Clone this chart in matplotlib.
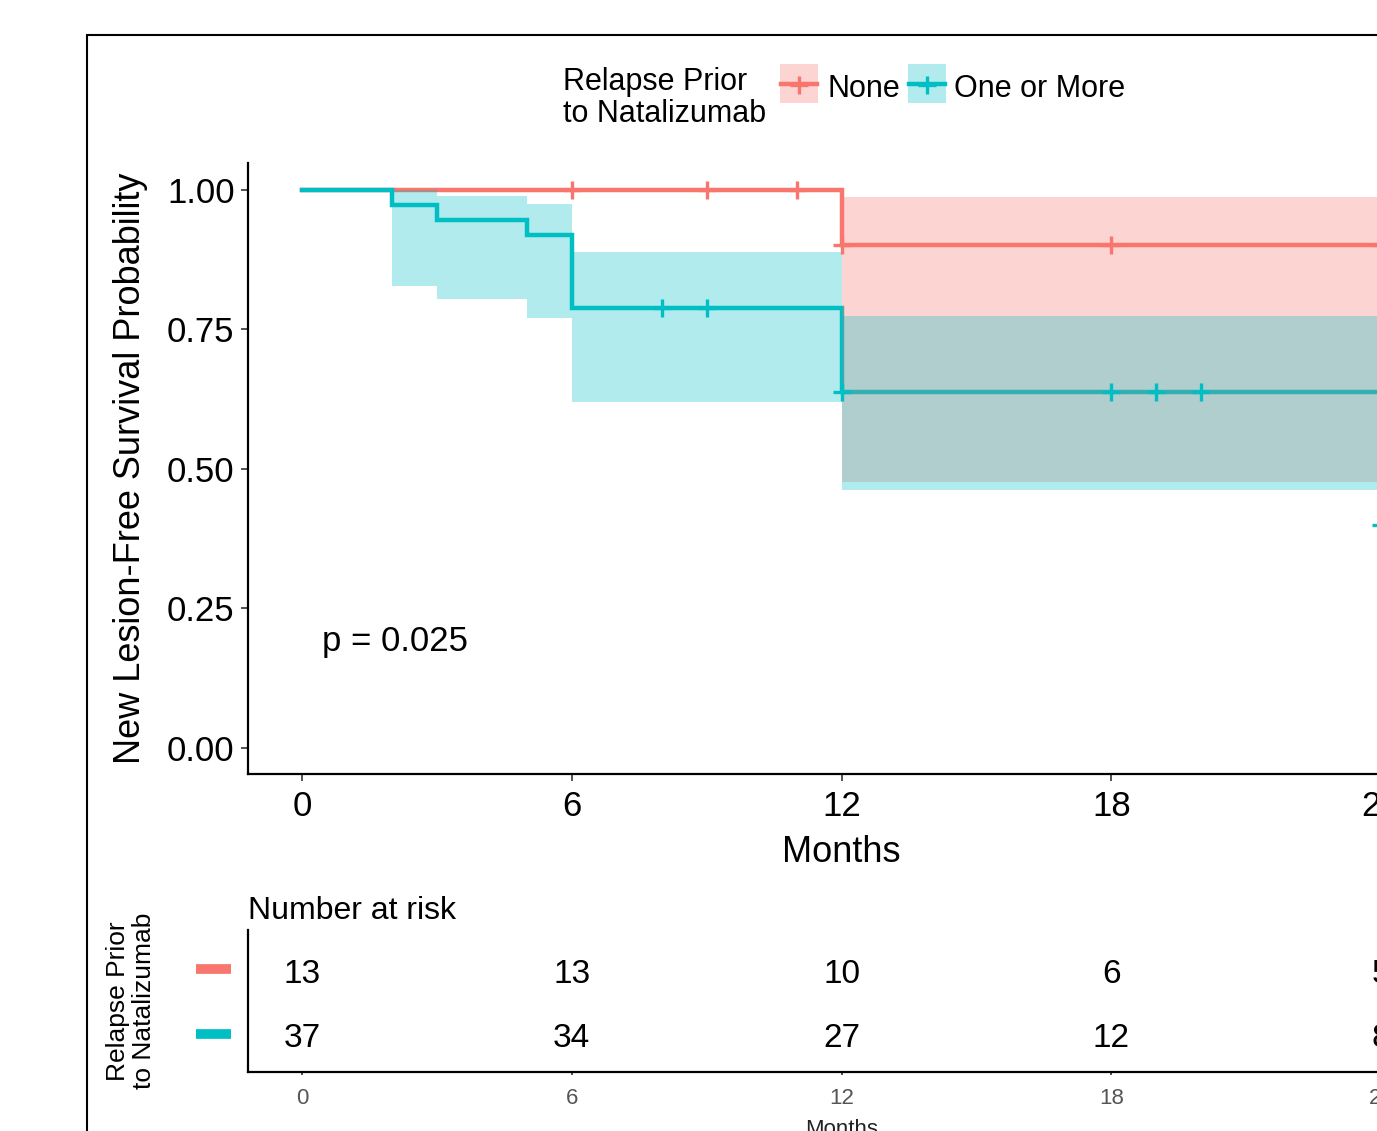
import numpy as np
import matplotlib
matplotlib.use("Agg")
import matplotlib.pyplot as plt
from matplotlib.patches import Rectangle
from matplotlib.lines import Line2D
from matplotlib.transforms import blended_transform_factory

plt.rcParams['font.family'] = ['Liberation Sans', 'DejaVu Sans']

# ---- data ----
groups = ["None", "One or More"]
colors = ["#F8766D", "#00BFC4"]

none_times = [0, 12, 24]
none_surv = [1.0, 0.901, 0.901]
none_lower = [1.0, 0.476]
none_upper = [1.0, 0.987]
none_censor = [6, 9, 11, 12, 18, 24]

more_times = [0, 2, 3, 5, 6, 12, 24]
more_surv = [1.0, 0.973, 0.946, 0.919, 0.788, 0.638, 0.40]
more_lower = [1.0, 0.827, 0.805, 0.770, 0.619, 0.462]
more_upper = [1.0, 1.0, 0.988, 0.974, 0.889, 0.774]
more_censor = [8, 9, 12, 18, 19, 20, 24]

risk_times = [0, 6, 12, 18, 24]
none_risk = [13, 13, 10, 6, 5]
more_risk = [37, 34, 27, 12, 8]

pval_text = "p = 0.025"
x_ticks = [0, 6, 12, 18, 24]
y_ticks = [0.0, 0.25, 0.5, 0.75, 1.0]

W, H = 1377, 1131


def fx(px):
    return px / W


def fy(py):
    return 1 - py / H


fig = plt.figure(figsize=(W / 100, H / 100), dpi=100)

# outer frame of the arranged plot
fig.add_artist(Rectangle((fx(87), fy(1250)), (1600 - 87) / W, (1250 - 35) / H,
                         transform=fig.transFigure, fill=False, ec="black",
                         lw=1.5, clip_on=False))

# ---- survival curves ----
ax = fig.add_axes([fx(248), fy(774), 1187 / W, (774 - 163) / H])


def surv_at(times, surv, t):
    i = np.searchsorted(times, t, side="right") - 1
    return np.asarray(surv)[i]


series = [
    (none_times, none_surv, none_lower, none_upper, none_censor),
    (more_times, more_surv, more_lower, more_upper, more_censor),
]

for (t, s, lo, hi, cen), col in zip(series, colors):
    ax.step(t, s, where="post", color=col, lw=3.2, zorder=2, solid_joinstyle="miter")

for (t, s, lo, hi, cen), col in zip(series, colors):
    tt = list(t[:len(lo)]) + [t[-1]]
    ax.fill_between(tt, list(lo) + [lo[-1]], list(hi) + [hi[-1]], step="post",
                    color=col, alpha=0.3, lw=0, zorder=3)

for (t, s, lo, hi, cen), col in zip(series, colors):
    ax.plot(cen, [surv_at(t, s, c) for c in cen], ls="none", marker="+",
            ms=13, mew=2.4, color=col, zorder=4, clip_on=False)

ax.text(0.44, 0.174, pval_text, fontsize=25, ha="left", va="baseline")

ax.set_xlim(-1.2, 25.2)
ax.set_ylim(-0.047, 1.048)
ax.set_xticks(x_ticks)
ax.set_yticks(y_ticks)
ax.set_yticklabels([f"{v:.2f}" for v in y_ticks])
for side in ["top", "right"]:
    ax.spines[side].set_visible(False)
for side in ["left", "bottom"]:
    ax.spines[side].set_linewidth(1.6)
ax.tick_params(axis="both", labelsize=25, length=5, width=1.2, color="#333333")
ax.tick_params(axis="y", pad=4.7)
ax.tick_params(axis="x", pad=6.5)
ax.set_xlabel("Months", fontsize=26)
ax.xaxis.set_label_coords(0.5, (774 - 835) / 611)
ax.set_ylabel("New Lesion-Free Survival Probability", fontsize=26)
ax.yaxis.set_label_coords((148 - 248) / 1187, 0.5)

# ---- legend (top) ----
fig.text(fx(563), fy(90), "Relapse Prior", fontsize=22, ha="left", va="baseline")
fig.text(fx(563), fy(122), "to Natalizumab", fontsize=22, ha="left", va="baseline")
key_x = [780, 908]
text_x = [827, 954]
for kx, tx, col, name in zip(key_x, text_x, colors, groups):
    fig.add_artist(Rectangle((fx(kx), fy(103)), 38 / W, 39 / H, transform=fig.transFigure,
                             fc=col, alpha=0.3, lw=0))
    fig.add_artist(Line2D([fx(kx + 1), fx(kx + 37)], [fy(84), fy(84)],
                          transform=fig.transFigure, color=col, lw=3.2))
    fig.add_artist(Line2D([fx(kx + 19)], [fy(85)], transform=fig.transFigure,
                          color=col, marker="+", ms=13, mew=2.4, ls="none"))
    fig.text(fx(tx), fy(97), name, fontsize=22, ha="left", va="baseline")

# ---- risk table ----
ax2 = fig.add_axes([fx(248), fy(1072), 1187 / W, (1072 - 930) / H])
rows = [2, 1]
for row, counts in zip(rows, [none_risk, more_risk]):
    for t, n in zip(risk_times, counts):
        ax2.text(t, row - 0.21, str(n), fontsize=24, ha="center", va="baseline",
                 clip_on=False)

bar_tr = blended_transform_factory(ax2.transAxes, ax2.transData)
for row, col in zip(rows, colors):
    ax2.plot([(196 - 248) / 1187, (231 - 248) / 1187], [row, row], color=col, lw=7,
             solid_capstyle="butt", transform=bar_tr, clip_on=False)

ax2.set_xlim(-1.2, 25.2)
ax2.set_ylim(0.41, 2.61)
ax2.set_xticks(x_ticks)
ax2.set_yticks([])
for side in ["top", "right"]:
    ax2.spines[side].set_visible(False)
for side in ["left", "bottom"]:
    ax2.spines[side].set_linewidth(1.6)
ax2.tick_params(axis="x", labelsize=16, length=2.5, width=1.2, color="#333333",
                labelcolor="#555555", pad=9)
ax2.set_title("Number at risk", loc="left", fontsize=23, pad=8)
ax2.set_xlabel("Months", fontsize=16, color="#222222")
ax2.xaxis.set_label_coords(0.5, (1072 - 1119) / 142)
fig.text(fx(131), fy(1001), "Relapse Prior\nto Natalizumab", fontsize=19, rotation=90,
         ha="center", va="center", multialignment="center", linespacing=1.1)

fig.savefig("out.png", dpi=100)
